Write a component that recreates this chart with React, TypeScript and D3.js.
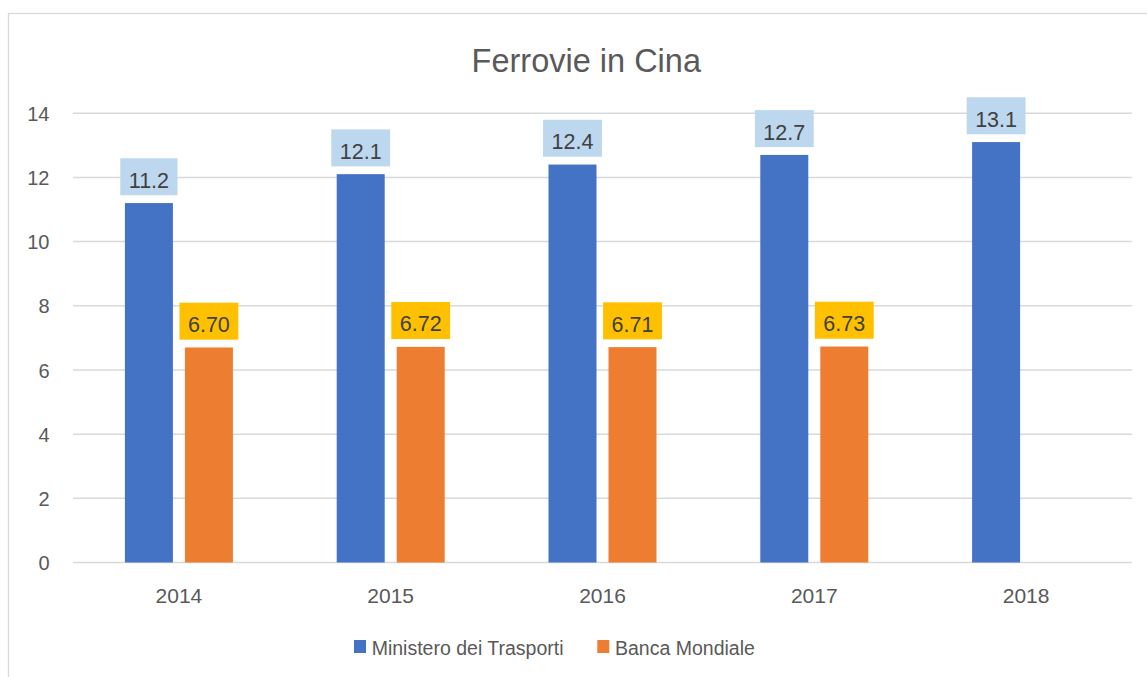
import React, { useRef, useEffect } from "react";
import * as d3 from "d3";

const years = ["2014", "2015", "2016", "2017", "2018"];
const seriesNames = ["Ministero dei Trasporti", "Banca Mondiale"];
const ministero = [11.2, 12.1, 12.4, 12.7, 13.1];
const banca: (number | null)[] = [6.7, 6.72, 6.71, 6.73, null];
const yTicks = [0, 2, 4, 6, 8, 10, 12, 14];

const barColors = ["#4472C4", "#ED7D31"];
const labelFills = ["#BDD7EE", "#FFC000"];
const labelFormats = [d3.format(".1f"), d3.format(".2f")];

const WIDTH = 1147;
const HEIGHT = 677;
const FONT = "'Liberation Sans', Arial, sans-serif";

const App: React.FC = () => {
  const ref = useRef<SVGGElement | null>(null);

  useEffect(() => {
    if (!ref.current) return;
    const g = d3.select(ref.current);
    g.selectAll("*").remove();

    const plot = { left: 73, right: 1132, top: 113.2, bottom: 562.5 };

    const x = d3.scaleBand<string>().domain(years).range([plot.left, plot.right]).padding(0);
    const groupW = 108;
    const xs = d3.scaleBand<string>().domain(seriesNames).range([0, groupW]).paddingInner(0.2);
    const y = d3.scaleLinear().domain([0, 14]).range([plot.bottom, plot.top]);

    // chart border (extends past the picture on right/bottom)
    g.append("rect")
      .attr("x", 8.5)
      .attr("y", 13.5)
      .attr("width", 1200)
      .attr("height", 700)
      .attr("fill", "white")
      .attr("stroke", "#d9d9d9")
      .attr("stroke-width", 1.3);

    // title
    g.append("text")
      .attr("x", 586.3)
      .attr("y", 71.7)
      .attr("text-anchor", "middle")
      .attr("font-family", FONT)
      .attr("font-size", 32.5)
      .attr("fill", "#595959")
      .text("Ferrovie in Cina");

    // gridlines
    g.append("g")
      .selectAll("line")
      .data(yTicks)
      .join("line")
      .attr("x1", plot.left)
      .attr("x2", plot.right)
      .attr("y1", (d) => y(d))
      .attr("y2", (d) => y(d))
      .attr("stroke", "#d9d9d9")
      .attr("stroke-width", 1.5);

    // y tick labels
    g.append("g")
      .selectAll("text")
      .data(yTicks)
      .join("text")
      .attr("x", 49.5)
      .attr("y", (d) => y(d) + 7.6)
      .attr("text-anchor", "end")
      .attr("font-family", FONT)
      .attr("font-size", 20)
      .attr("fill", "#595959")
      .text((d) => String(d));

    // x tick labels
    g.append("g")
      .selectAll("text")
      .data(years)
      .join("text")
      .attr("x", (d) => x(d)! + x.bandwidth() / 2)
      .attr("y", 603.3)
      .attr("text-anchor", "middle")
      .attr("font-family", FONT)
      .attr("font-size", 21)
      .attr("fill", "#595959")
      .text((d) => d);

    const series = [ministero, banca];
    const offset = (x.bandwidth() - groupW) / 2;

    series.forEach((vals, si) => {
      const pts = years
        .map((yr, i) => ({ yr, v: vals[i] }))
        .filter((p) => p.v !== null) as { yr: string; v: number }[];
      const bx = (p: { yr: string }) => x(p.yr)! + offset + xs(seriesNames[si])!;

      g.append("g")
        .selectAll("rect")
        .data(pts)
        .join("rect")
        .attr("x", (p) => bx(p))
        .attr("y", (p) => y(p.v))
        .attr("width", xs.bandwidth())
        .attr("height", (p) => y(0) - y(p.v))
        .attr("fill", barColors[si]);

      const labels = g.append("g").selectAll("g").data(pts).join("g");
      labels.each(function (p) {
        const lg = d3.select(this);
        const cx = bx(p) + xs.bandwidth() / 2;
        const bottom = y(p.v) - 7.8;
        const box = lg.append("rect").attr("fill", labelFills[si]);
        const t = lg
          .append("text")
          .attr("x", cx)
          .attr("y", bottom - 7.6)
          .attr("text-anchor", "middle")
          .attr("font-family", FONT)
          .attr("font-size", 21.5)
          .attr("fill", "#404040")
          .text(labelFormats[si](p.v));
        const tw = (t.node() as SVGTextElement).getComputedTextLength();
        const bw = tw + 17;
        box
          .attr("x", cx - bw / 2)
          .attr("y", bottom - 37)
          .attr("width", bw)
          .attr("height", 37);
      });
    });

    // legend
    const legendX = [354, 597.3];
    const legend = g
      .append("g")
      .selectAll("g")
      .data(seriesNames)
      .join("g")
      .attr("transform", (_, i) => `translate(${legendX[i]},640)`);
    legend
      .append("rect")
      .attr("width", 12)
      .attr("height", 13)
      .attr("fill", (_, i) => barColors[i]);
    legend
      .append("text")
      .attr("x", 17.7)
      .attr("y", 15)
      .attr("font-family", FONT)
      .attr("font-size", 19.5)
      .attr("fill", "#595959")
      .text((d) => d);
  }, []);

  return (
    <svg
      width={WIDTH}
      height={HEIGHT}
      style={{ position: "absolute", left: 0, top: 0, background: "white" }}
    >
      <g ref={ref} />
    </svg>
  );
};

export default App;
